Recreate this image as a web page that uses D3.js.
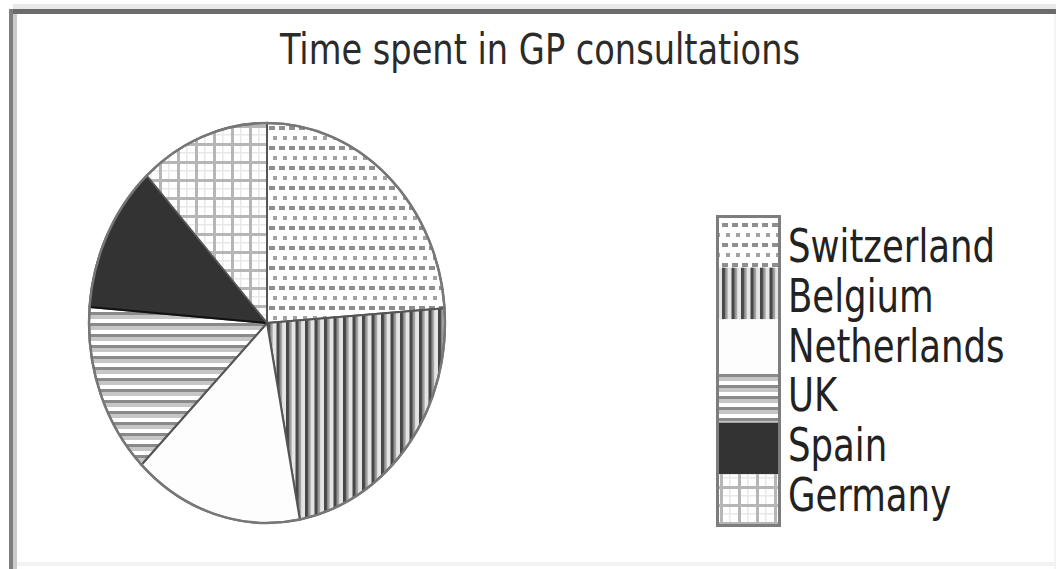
<!DOCTYPE html>
<html>
<head>
  <meta charset="utf-8">
  <title>Time spent in GP consultations</title>
  <script src="https://d3js.org/d3.v7.min.js"></script>
</head>
<body>
<svg width="1056" height="569"></svg>

<script>
// values (share of the pie, %)
var countries = ["Switzerland", "Belgium", "Netherlands", "UK", "Spain", "Germany"];
var shares = [23.8, 23.2, 15.4, 13.8, 11.9, 11.8];
var patternIds = ["pSwiss", "pBel", "pNed", "pUK", "pEsp", "pGer"];

var svg = d3.select("svg");

// frame round the picture
svg.append("rect").attr("x", 0).attr("y", 0).attr("width", 1056).attr("height", 569).attr("fill", "#ffffff");
svg.append("rect").attr("x", 13).attr("y", 4).attr("width", 1043).attr("height", 5).attr("fill", "#e8e8e8");
svg.append("rect").attr("x", 9).attr("y", 9).attr("width", 1047).attr("height", 5).attr("fill", "#6b6b6b");
svg.append("rect").attr("x", 9).attr("y", 9).attr("width", 4).attr("height", 560).attr("fill", "#7e7e7e");
svg.append("rect").attr("x", 13).attr("y", 14).attr("width", 4).attr("height", 555).attr("fill", "#cbcbcb");
svg.append("rect").attr("x", 17).attr("y", 562).attr("width", 1039).attr("height", 4).attr("fill", "#f2f2f2");
svg.append("rect").attr("x", 1054).attr("y", 14).attr("width", 2).attr("height", 555).attr("fill", "#f4f4f4");

// hatch patterns, once plain (legend) and once corrected for the squashed pie
var defs = svg.append("defs");
function makePatterns(suffix, transform) {
  var p;
  p = defs.append("pattern").attr("id", "pSwiss" + suffix).attr("patternUnits", "userSpaceOnUse")
    .attr("width", 10).attr("height", 20).attr("patternTransform", transform);
  p.append("rect").attr("width", 10).attr("height", 20).attr("fill", "#ffffff");
  p.append("rect").attr("x", 2).attr("y", 3).attr("width", 6).attr("height", 4).attr("fill", "#8e8e8e");
  p.append("rect").attr("x", 6).attr("y", 13).attr("width", 4).attr("height", 4).attr("fill", "#a2a2a2");

  p = defs.append("pattern").attr("id", "pBel" + suffix).attr("patternUnits", "userSpaceOnUse")
    .attr("width", 9.5).attr("height", 10).attr("patternTransform", transform);
  p.append("rect").attr("width", 9.5).attr("height", 10).attr("fill", "#e4e4e4");
  p.append("rect").attr("x", 0).attr("width", 3.5).attr("height", 10).attr("fill", "#474747");
  p.append("rect").attr("x", 3.5).attr("width", 2).attr("height", 10).attr("fill", "#9a9a9a");

  p = defs.append("pattern").attr("id", "pNed" + suffix).attr("patternUnits", "userSpaceOnUse")
    .attr("width", 10).attr("height", 10);
  p.append("rect").attr("width", 10).attr("height", 10).attr("fill", "#fdfdfd");

  p = defs.append("pattern").attr("id", "pUK" + suffix).attr("patternUnits", "userSpaceOnUse")
    .attr("width", 10).attr("height", 11).attr("patternTransform", transform);
  p.append("rect").attr("width", 10).attr("height", 11).attr("fill", "#ffffff");
  p.append("rect").attr("y", 0).attr("width", 10).attr("height", 3).attr("fill", "#8a8a8a");
  p.append("rect").attr("y", 3).attr("width", 10).attr("height", 4).attr("fill", "#c6c6c6");

  p = defs.append("pattern").attr("id", "pEsp" + suffix).attr("patternUnits", "userSpaceOnUse")
    .attr("width", 10).attr("height", 10);
  p.append("rect").attr("width", 10).attr("height", 10).attr("fill", "#333333");

  p = defs.append("pattern").attr("id", "pGer" + suffix).attr("patternUnits", "userSpaceOnUse")
    .attr("width", 18).attr("height", 18).attr("patternTransform", transform);
  p.append("rect").attr("width", 18).attr("height", 18).attr("fill", "#ffffff");
  p.append("rect").attr("x", 9).attr("width", 1.5).attr("height", 18).attr("fill", "#e8e8e8");
  p.append("rect").attr("y", 9).attr("width", 18).attr("height", 1.5).attr("fill", "#e8e8e8");
  p.append("rect").attr("x", 0).attr("width", 3).attr("height", 18).attr("fill", "#b6b6b6");
  p.append("rect").attr("y", 0).attr("width", 18).attr("height", 3).attr("fill", "#b6b6b6");
}

// the pie is an ellipse: circle of radius ry squashed horizontally
var cx = 267, cy = 323, rx = 178, ry = 200;
var sx = rx / ry;
makePatterns("", null);
makePatterns("Pie", "scale(" + (1 / sx) + ",1)");

// title
svg.append("text")
  .attr("x", 540)
  .attr("y", 64)
  .attr("text-anchor", "middle")
  .attr("font-family", "'DejaVu Sans Condensed', 'Liberation Sans', sans-serif")
  .attr("font-size", "42px")
  .attr("fill", "#2b2b2b")
  .attr("textLength", 520)
  .attr("lengthAdjust", "spacingAndGlyphs")
  .text("Time spent in GP consultations");

// pie
var pie = d3.pie().sort(null).value(function (d) { return d; });
var arc = d3.arc().innerRadius(0).outerRadius(ry);
var slices = pie(shares);

var g = svg.append("g")
  .attr("transform", "translate(" + cx + "," + cy + ") scale(" + sx + ",1)");

g.selectAll("path.slice")
  .data(slices)
  .enter()
  .append("path")
  .attr("class", "slice")
  .attr("d", arc)
  .attr("fill", function (d, i) { return "url(#" + patternIds[i] + "Pie)"; })
  .attr("stroke", function (d, i) { return i == 4 ? "#111111" : "#555555"; })
  .attr("stroke-width", 2)
  .attr("stroke-linejoin", "round")
  .attr("vector-effect", "non-scaling-stroke");

// outer rim
g.append("circle")
  .attr("r", ry)
  .attr("fill", "none")
  .attr("stroke", "#777777")
  .attr("stroke-width", 2.5)
  .attr("vector-effect", "non-scaling-stroke");

// legend
var swatchY = d3.scaleBand().domain(countries).range([216, 526]);
var labelY = d3.scalePoint().domain(countries).range([262, 511]);

svg.selectAll("rect.swatch")
  .data(countries)
  .enter()
  .append("rect")
  .attr("class", "swatch")
  .attr("x", 718)
  .attr("y", function (d) { return swatchY(d); })
  .attr("width", 61)
  .attr("height", swatchY.bandwidth())
  .attr("fill", function (d, i) { return "url(#" + patternIds[i] + ")"; });

svg.append("rect")
  .attr("x", 717.5)
  .attr("y", 216.5)
  .attr("width", 62)
  .attr("height", 309)
  .attr("fill", "none")
  .attr("stroke", "#7d7d7d")
  .attr("stroke-width", 3);

// the labels' font is tall and narrow: squeeze a condensed face horizontally
svg.selectAll("text.label")
  .data(countries)
  .enter()
  .append("text")
  .attr("class", "label")
  .attr("transform", function (d) { return "translate(788," + labelY(d) + ") scale(0.84,1)"; })
  .attr("font-family", "'DejaVu Sans Condensed', 'Liberation Sans', sans-serif")
  .attr("font-size", "47px")
  .attr("fill", "#222222")
  .text(function (d) { return d; });
</script>

<style>
body { margin: 0; background: #ffffff; }
svg { display: block; }
</style>
</body>
</html>
